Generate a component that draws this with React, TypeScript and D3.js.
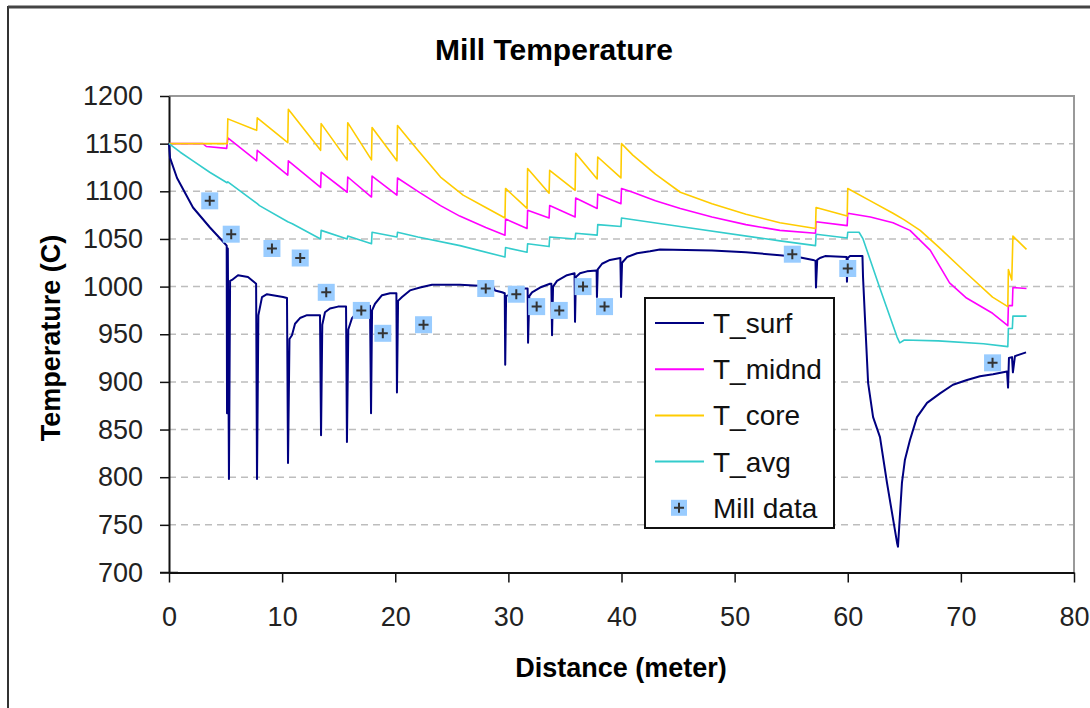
import React, { useEffect, useRef } from "react";
import * as d3 from "d3";

// distance (m), temperature (C)
const tSurf: [number, number][] = [
  [0, 1150], [0.09, 1135], [0.71, 1114], [2.12, 1083], [3.62, 1062], [4.95, 1045],
  [5.1, 1043], [5.13, 867], [5.2, 1040], [5.3, 798], [5.4, 1006], [5.57, 1007],
  [6.1, 1012], [6.98, 1010], [7.6, 1004], [7.7, 1003], [7.78, 798], [7.9, 970],
  [8.22, 989], [8.66, 992], [10.08, 989], [10.43, 988], [10.52, 815], [10.65, 945],
  [10.87, 949], [11.14, 961], [11.58, 967], [12.2, 970], [13.35, 970], [13.44, 844],
  [13.55, 960], [13.79, 973], [14.23, 977], [14.94, 979], [15.65, 979], [15.73, 837],
  [15.85, 955], [16.18, 967], [16.62, 973], [17.06, 978], [17.77, 980], [17.86, 867],
  [17.95, 975], [18.21, 982], [18.83, 991], [19.54, 993], [20.1, 993], [20.15, 889],
  [20.25, 985], [20.6, 989], [21.3, 996], [22.19, 999], [23.25, 1002], [25.72, 1002],
  [28.64, 1000], [28.82, 996], [29.44, 994], [29.68, 993], [29.72, 918], [29.8, 990],
  [30.41, 993], [31.47, 998], [31.7, 998], [31.74, 941], [31.85, 990], [32.09, 994],
  [32.8, 999], [33.68, 1003], [33.8, 1003], [33.86, 949], [33.95, 1000], [34.3, 1006],
  [35.18, 1012], [35.85, 1014], [35.89, 963], [35.97, 1010], [36.33, 1014], [36.95, 1016],
  [37.8, 1017], [37.83, 989], [37.9, 1018], [38.28, 1024], [38.98, 1028], [39.9, 1030],
  [39.96, 989], [40.05, 1025], [40.49, 1031], [41.37, 1035], [42.52, 1037], [43.4, 1039],
  [48, 1038], [51, 1036], [54, 1033], [55.6, 1031], [56.93, 1028], [57.15, 1027],
  [57.19, 999], [57.3, 1028], [57.54, 1030], [58.0, 1032], [59.9, 1031], [59.93, 1005],
  [60.0, 1030], [60.2, 1032], [61.3, 1032], [61.35, 1010], [61.53, 965], [61.8, 899],
  [62.24, 863], [62.85, 842], [63.47, 794], [64.36, 731], [64.44, 727], [64.79, 794],
  [65.05, 818], [65.5, 839], [66.12, 863], [67.01, 878], [68.16, 888], [69.3, 897],
  [70.54, 902], [71.69, 906], [72.84, 908], [74.08, 911], [74.17, 894], [74.25, 925],
  [74.52, 926], [74.6, 910], [74.78, 927], [75.76, 931],
];

const tMidnd: [number, number][] = [
  [0, 1150], [3.0, 1150], [3.3, 1147], [5.1, 1145], [5.2, 1156], [7.75, 1132],
  [7.8, 1143], [10.5, 1117], [10.55, 1132], [13.4, 1104], [13.45, 1120], [15.75, 1099],
  [15.8, 1115], [17.9, 1094], [17.95, 1116], [20.15, 1096], [20.2, 1114], [22, 1100],
  [24, 1085], [25.7, 1074], [28, 1062], [29.7, 1054], [29.75, 1071], [31.65, 1061],
  [31.7, 1080], [33.6, 1072], [33.65, 1085], [35.9, 1073], [35.95, 1093], [37.85, 1082],
  [37.9, 1097], [39.95, 1087], [40.0, 1103], [41, 1099], [43, 1090], [45.2, 1082],
  [48, 1073], [51, 1065], [54, 1059], [57.15, 1056], [57.2, 1068], [59.95, 1064],
  [60.0, 1077], [62, 1073], [64, 1067], [65.5, 1059], [67.3, 1038], [69, 1004],
  [70.5, 988], [72.8, 972], [74.15, 959], [74.2, 980], [74.55, 980], [74.6, 999],
  [75.8, 998],
];

const tCore: [number, number][] = [
  [0, 1150], [5.15, 1150], [5.2, 1176], [7.75, 1164], [7.8, 1177], [10.5, 1151],
  [10.55, 1186], [13.4, 1143], [13.45, 1171], [15.75, 1133], [15.8, 1172], [17.9, 1133],
  [17.95, 1167], [20.15, 1132], [20.2, 1169], [22, 1143], [24, 1115], [26, 1096],
  [28, 1083], [29.7, 1072], [29.75, 1103], [31.65, 1082], [31.7, 1124], [33.6, 1098],
  [33.65, 1122], [35.9, 1101], [35.95, 1140], [37.85, 1113], [37.9, 1136], [39.95, 1114],
  [40.0, 1150], [41, 1138], [42, 1128], [43, 1118], [45.2, 1099], [48, 1087],
  [51, 1076], [54, 1067], [57.15, 1061], [57.2, 1083], [59.95, 1074], [60.0, 1103],
  [62, 1090], [64, 1077], [65, 1070], [66.4, 1059], [68, 1042], [70.5, 1014],
  [72.8, 989], [74.15, 979], [74.2, 1018], [74.5, 1007], [74.6, 1053], [75.8, 1039],
];

const tAvg: [number, number][] = [
  [0, 1150], [1, 1141], [2.12, 1132], [3.6, 1120], [5.13, 1109], [5.2, 1110],
  [7.8, 1087], [8.0, 1085], [10.5, 1068], [10.9, 1066], [13.4, 1050], [13.45, 1059],
  [15.75, 1050], [15.8, 1053], [17.9, 1045], [17.95, 1057], [20.15, 1052], [20.2, 1057],
  [22, 1052], [25.72, 1043], [29.7, 1031], [29.75, 1041], [31.65, 1036], [31.7, 1045],
  [33.6, 1042], [33.65, 1052], [35.9, 1050], [35.95, 1056], [37.85, 1054], [37.9, 1065],
  [39.95, 1063], [40.0, 1072], [45.17, 1063], [54.01, 1048], [57.15, 1043], [57.2, 1055],
  [59.95, 1051], [60.0, 1057], [61.0, 1057], [61.35, 1050], [62.85, 998], [64.36, 947],
  [64.6, 941], [65.0, 944], [68, 943], [72, 940], [74.15, 937], [74.2, 956],
  [74.55, 956], [74.6, 969], [75.8, 969],
];

const millData: [number, number][] = [
  [3.6, 1090], [5.5, 1055], [9.1, 1040], [11.6, 1030], [13.9, 994], [17.0, 975],
  [18.9, 951], [22.5, 960], [28.0, 998], [30.7, 992], [32.5, 979], [34.5, 975],
  [36.6, 1000], [38.5, 979], [55.1, 1034], [60.0, 1019], [72.8, 920],
];

const xTicks = [0, 10, 20, 30, 40, 50, 60, 70, 80];
const yTicks = [700, 750, 800, 850, 900, 950, 1000, 1050, 1100, 1150, 1200];

const seriesNames = ["T_surf", "T_midnd", "T_core", "T_avg"];
const seriesColors = ["#000080", "#FF00FF", "#FFCC00", "#33CCCC"];

function App() {
  const ref = useRef<SVGSVGElement>(null);

  useEffect(() => {
    const svg = d3.select(ref.current);
    svg.selectAll("*").remove();

    const font = "'Liberation Sans', Arial, sans-serif";
    const left = 169, right = 1074, top = 96, bottom = 572.5;

    const x = d3.scaleLinear().domain([0, 80]).range([left, right]);
    const y = d3.scaleLinear().domain([700, 1200]).range([bottom, top]);

    // chart area
    svg.append("rect").attr("x", 8).attr("y", 7).attr("width", 1100).attr("height", 720)
      .attr("fill", "#fff").attr("stroke", "#333").attr("stroke-width", 2);
    svg.append("line").attr("x1", 8).attr("x2", 1090).attr("y1", 7).attr("y2", 7)
      .attr("stroke", "#444").attr("stroke-width", 3);

    svg.append("text").text("Mill Temperature")
      .attr("x", 554).attr("y", 60).attr("text-anchor", "middle")
      .attr("font-family", font).attr("font-weight", "bold").attr("font-size", 30);

    // grid
    svg.append("g").selectAll("line")
      .data(yTicks.filter(t => t > 700 && t < 1200))
      .enter().append("line")
      .attr("x1", left).attr("x2", right)
      .attr("y1", d => y(d)).attr("y2", d => y(d))
      .attr("stroke", "#bdbdbd").attr("stroke-width", 1.5).attr("stroke-dasharray", "7,5");

    // plot border top/right
    svg.append("path")
      .attr("d", `M${left},${top}H${right}V${bottom}`)
      .attr("fill", "none").attr("stroke", "#999").attr("stroke-width", 2);

    // axes
    const yAxis = svg.append("g").attr("transform", `translate(${left},0)`)
      .call(d3.axisLeft(y).tickValues(yTicks).tickFormat(d3.format("d"))
        .tickSize(9).tickPadding(17).tickSizeOuter(0));
    const xAxis = svg.append("g").attr("transform", `translate(0,${bottom})`)
      .call(d3.axisBottom(x).tickValues(xTicks).tickFormat(d3.format("d"))
        .tickSize(10).tickPadding(24).tickSizeOuter(0));
    [yAxis, xAxis].forEach(a => {
      a.select(".domain").attr("stroke", "#111").attr("stroke-width", 2);
      a.selectAll(".tick line").attr("stroke", "#111").attr("stroke-width", 1.5);
      a.selectAll(".tick text").attr("font-family", font).attr("font-size", 27).attr("fill", "#222");
    });
    // Excel style cross tick at the origin
    svg.append("line").attr("x1", left - 9).attr("x2", left + 9)
      .attr("y1", bottom).attr("y2", bottom).attr("stroke", "#111").attr("stroke-width", 1.5);

    svg.append("text").text("Distance (meter)")
      .attr("x", 621).attr("y", 677).attr("text-anchor", "middle")
      .attr("font-family", font).attr("font-weight", "bold").attr("font-size", 27);
    svg.append("text").text("Temperature (C)")
      .attr("transform", "translate(60,338) rotate(-90)").attr("text-anchor", "middle")
      .attr("font-family", font).attr("font-weight", "bold").attr("font-size", 27);

    // lines
    const line = d3.line<[number, number]>().x(d => x(d[0])).y(d => y(d[1]));
    [tSurf, tMidnd, tCore, tAvg].forEach((s, i) => {
      svg.append("path").datum(s).attr("d", line)
        .attr("fill", "none").attr("stroke", seriesColors[i])
        .attr("stroke-width", i === 0 ? 2 : 1.6).attr("stroke-linejoin", "round");
    });

    // mill data markers
    const drawMarker = (g: any, cx: number, cy: number, s: number) => {
      g.append("rect").attr("x", cx - s / 2).attr("y", cy - s / 2)
        .attr("width", s).attr("height", s).attr("fill", "#99CCFF");
      g.append("path").attr("d", `M${cx - 5},${cy}H${cx + 5}M${cx},${cy - 5}V${cy + 5}`)
        .attr("stroke", "#333").attr("stroke-width", 2);
    };
    const mg = svg.append("g");
    millData.forEach(d => drawMarker(mg, x(d[0]), y(d[1]), 17));

    // legend
    const lg = svg.append("g");
    lg.append("rect").attr("x", 645).attr("y", 298).attr("width", 189).attr("height", 230)
      .attr("fill", "#fff").attr("stroke", "#111").attr("stroke-width", 2);
    const names = [...seriesNames, "Mill data"];
    names.forEach((n, i) => {
      const cy = 323 + i * 46.2;
      if (i < 4) {
        lg.append("line").attr("x1", 655).attr("x2", 704).attr("y1", cy).attr("y2", cy)
          .attr("stroke", seriesColors[i]).attr("stroke-width", 2);
      } else {
        drawMarker(lg, 679, cy, 16);
      }
      lg.append("text").text(n).attr("x", 713).attr("y", cy + 10)
        .attr("font-family", font).attr("font-size", 28).attr("fill", "#111");
    });
  }, []);

  return (
    <svg ref={ref} width={1090} height={708}
      style={{ position: "absolute", left: 0, top: 0, background: "#fff" }} />
  );
}

export default App;
